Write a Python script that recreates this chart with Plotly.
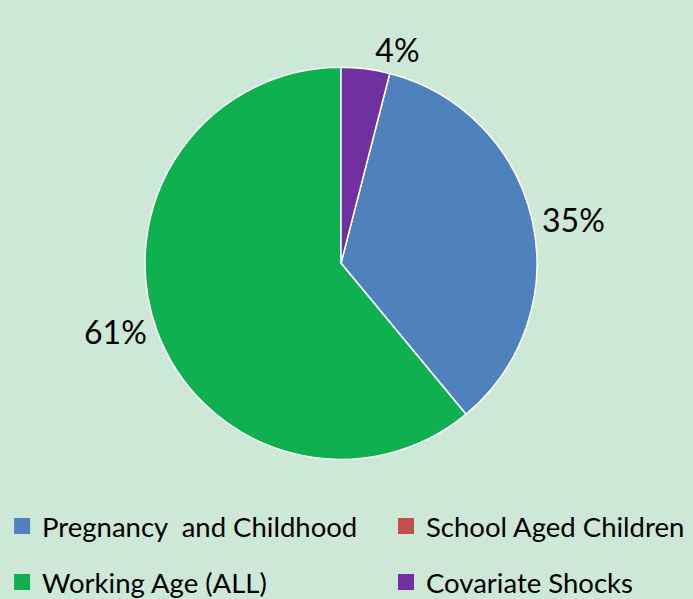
import plotly.graph_objects as go

categories = ["Pregnancy\u00a0 and Childhood", "School Aged Children", "Working Age (ALL)", "Covariate Shocks"]
values = [35, 0, 61, 4]
colors = ["#4f81bd", "#c0504d", "#0fb050", "#7030a0"]
legend_ids = ["legend", "legend2", "legend3", "legend4"]

total = sum(values)
start_angle = 360.0 * values[-1] / total
templates = ["%{percent:.0%}" if v > 0 else "" for v in values]

W, H = 693, 599
PH = 499  # plot-area height left above the legend rows (legends reserve the rest)

fig = go.Figure()
fig.add_trace(go.Pie(
    labels=categories,
    values=values,
    sort=False,
    direction="clockwise",
    rotation=start_angle,
    marker=dict(colors=colors, line=dict(color="white", width=1.5)),
    textposition="outside",
    texttemplate=templates,
    textfont=dict(family="Lato", size=32, color="black"),
    domain=dict(x=[145/W, 537/W], y=[1-458/PH, 1-66/PH]),
    hoverinfo="label+percent",
    showlegend=False,
))

# legend-only entries, one legend box per entry (2 x 2 grid like the reference)
for cat, col, lg in zip(categories, colors, legend_ids):
    fig.add_trace(go.Scatter(
        x=[None], y=[None], mode="markers", name=cat,
        marker=dict(symbol="square", size=16, color=col),
        legend=lg, hoverinfo="skip",
    ))

legend_style = dict(
    orientation="h",
    xref="container", yref="container",
    xanchor="left", yanchor="middle",
    font=dict(family="Lato", size=27.5, color="black"),
    bgcolor="rgba(0,0,0,0)",
)
col_x = [0.003, 0.557]
row_y = [1 - 526/H, 1 - 582/H]

fig.update_layout(
    width=W, height=H,
    margin=dict(l=0, r=0, t=0, b=0),
    paper_bgcolor="#cde8d6",
    plot_bgcolor="#cde8d6",
    font=dict(family="Lato", color="black"),
    xaxis=dict(visible=False),
    yaxis=dict(visible=False),
    legend=dict(legend_style, x=col_x[0], y=row_y[0]),
    legend2=dict(legend_style, x=col_x[1], y=row_y[0]),
    legend3=dict(legend_style, x=col_x[0], y=row_y[1]),
    legend4=dict(legend_style, x=col_x[1], y=row_y[1]),
)

fig.write_html("out.html", config={"displayModeBar": False},
               post_script="document.body.style.margin='0';")
